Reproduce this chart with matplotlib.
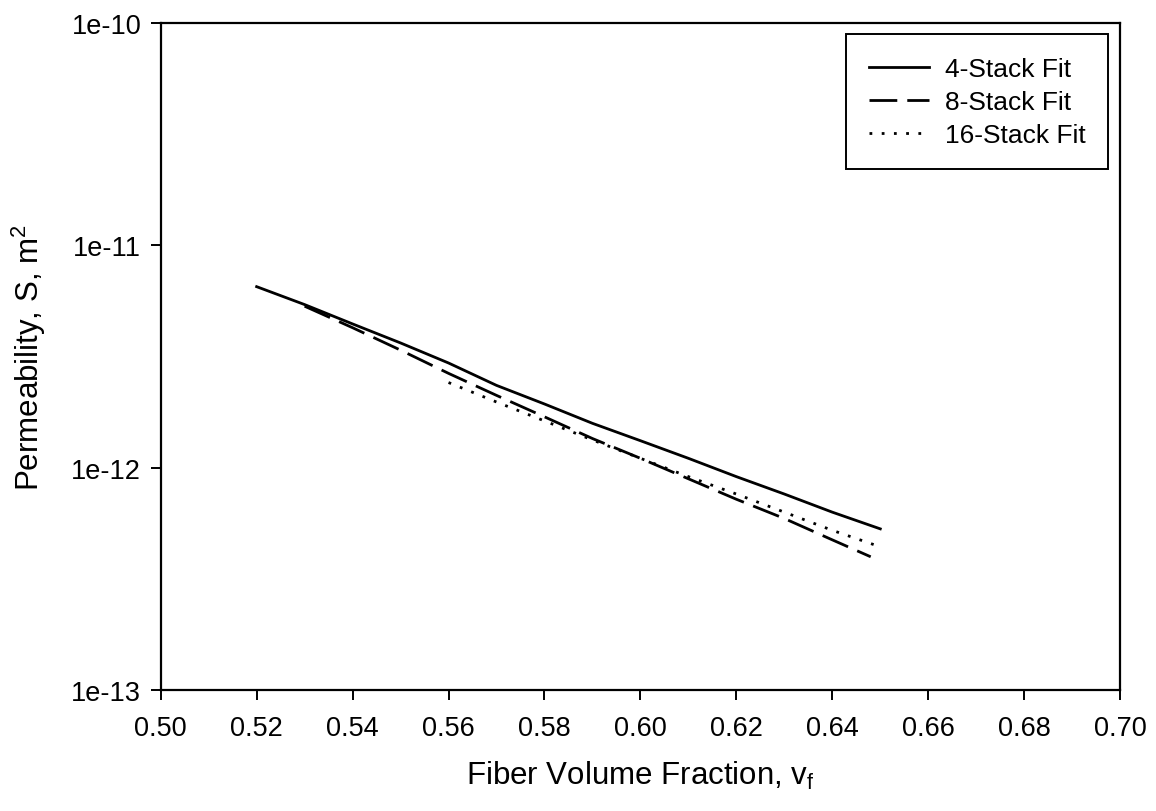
import numpy as np
import matplotlib
matplotlib.use("Agg")
import matplotlib.pyplot as plt
from matplotlib.ticker import NullLocator

plt.rcParams['font.family'] = ['Liberation Sans', 'DejaVu Sans']
plt.rcParams['mathtext.default'] = 'regular'

# values
vf_4 = [0.52, 0.53, 0.54, 0.55, 0.56, 0.57, 0.58, 0.59, 0.60, 0.61, 0.62, 0.63, 0.64, 0.65]
s_4 = [6.5e-12, 5.4e-12, 4.42e-12, 3.63e-12, 2.95e-12, 2.34e-12, 1.93e-12, 1.58e-12,
       1.32e-12, 1.10e-12, 9.1e-13, 7.6e-13, 6.3e-13, 5.3e-13]

vf_8 = [0.53, 0.54, 0.55, 0.56, 0.57, 0.58, 0.59, 0.60, 0.61, 0.62, 0.63, 0.64, 0.648]
s_8 = [5.31e-12, 4.25e-12, 3.37e-12, 2.65e-12, 2.11e-12, 1.69e-12, 1.35e-12,
       1.10e-12, 8.9e-13, 7.2e-13, 5.9e-13, 4.73e-13, 3.97e-13]

vf_16 = [0.56, 0.57, 0.58, 0.59, 0.60, 0.61, 0.62, 0.63, 0.64, 0.65]
s_16 = [2.41e-12, 1.97e-12, 1.62e-12, 1.33e-12, 1.10e-12, 9.1e-13, 7.6e-13,
        6.3e-13, 5.22e-13, 4.40e-13]

labels = ['4-Stack Fit', '8-Stack Fit', '16-Stack Fit']
xticks = np.arange(0.50, 0.701, 0.02)
yticks = [1e-13, 1e-12, 1e-11, 1e-10]
ytick_labels = ['1e-13', '1e-12', '1e-11', '1e-10']

fig = plt.figure(figsize=(11.56, 8.12), dpi=100)
ax = fig.add_axes([0.139, 0.149, 0.830, 0.822])

lw = 2.0
ax.plot(vf_4, s_4, color='black', lw=lw, label=labels[0])
ax.plot(vf_8, s_8, color='black', lw=lw, dashes=(10, 3.6), label=labels[1])
ax.plot(vf_16, s_16, color='black', lw=lw, dashes=(1, 3.4), label=labels[2])

ax.set_yscale('log')
ax.set_xlim(0.50, 0.70)
ax.set_ylim(1e-13, 1e-10)
ax.set_xticks(xticks)
ax.set_xticklabels(['%.2f' % t for t in xticks])
ax.set_yticks(yticks)
ax.set_yticklabels(ytick_labels)
ax.yaxis.set_minor_locator(NullLocator())
ax.tick_params(axis='both', direction='out', length=7, width=1.4, labelsize=19.5)
ax.tick_params(axis='x', pad=11)
ax.tick_params(axis='y', pad=7)

for sp in ax.spines.values():
    sp.set_linewidth(1.6)

ax.set_xlabel('Fiber Volume Fraction, v$_f$', fontsize=22.5, labelpad=13)
ax.set_ylabel('Permeability, S, m$^2$', fontsize=22.5, labelpad=17)

leg = ax.legend(loc='upper right', fontsize=19, frameon=True, fancybox=False,
                edgecolor='black', framealpha=1, labelspacing=0.34,
                handlelength=2.3, handletextpad=0.6, borderpad=0.85,
                borderaxespad=0.45)
leg.get_frame().set_linewidth(1.4)

fig.savefig('out.png', dpi=100)
